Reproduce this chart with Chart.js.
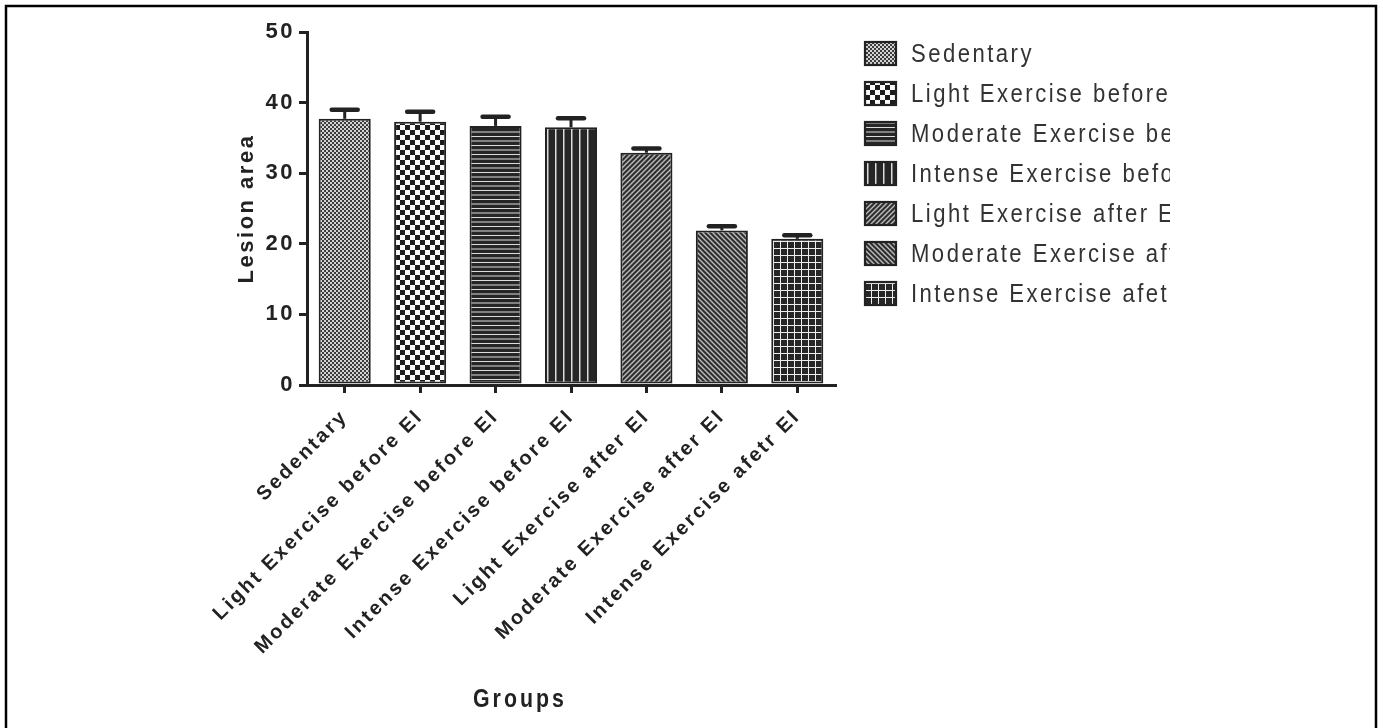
<!DOCTYPE html>
<html>
<head>
<meta charset="utf-8">
<title>Lesion area by group</title>
<script src="https://cdn.jsdelivr.net/npm/chart.js@4.4.1/dist/chart.umd.min.js"></script>
<style>
  html, body { margin: 0; padding: 0; background: #fff; overflow: hidden; }
  canvas { display: block; }
</style>
</head>
<body>
<canvas id="chart" width="1383" height="728"></canvas>
<script>
// Groups (x categories, also used for the legend)
const groups = [
  'Sedentary',
  'Light Exercise before El',
  'Moderate Exercise before El',
  'Intense Exercise before El',
  'Light Exercise after El',
  'Moderate Exercise after El',
  'Intense Exercise afetr El'
];
// Mean lesion area per group and its SEM (upper error bar)
const lesionMean = [37.7, 37.3, 36.7, 36.5, 32.9, 21.9, 20.7];
const lesionSEM  = [1.3, 1.4, 1.3, 1.3, 0.6, 0.6, 0.5];
// Y axis ticks
const yTicks = [0, 10, 20, 30, 40, 50];
// Fill pattern for each group
const fillKinds = ['fineCheck', 'checker', 'hLines', 'vLines', 'diagUp', 'diagDown', 'grid'];

const INK = '#222';
const canvas = document.getElementById('chart');
const baseCtx = canvas.getContext('2d');

function makeTile(kind) {
  const t = document.createElement('canvas');
  const g = t.getContext('2d');
  const dark = '#262626', light = '#dcdcdc';
  switch (kind) {
    case 'fineCheck':
      t.width = t.height = 4;
      g.fillStyle = '#3c3c3c'; g.fillRect(0, 0, 4, 4);
      g.fillStyle = '#d4d4d4'; g.fillRect(0, 0, 2, 2); g.fillRect(2, 2, 2, 2);
      break;
    case 'checker':
      t.width = t.height = 10;
      g.fillStyle = '#fafafa'; g.fillRect(0, 0, 10, 10);
      g.fillStyle = '#1c1c1c'; g.fillRect(0, 0, 5, 5); g.fillRect(5, 5, 5, 5);
      break;
    case 'hLines':
      t.width = 4; t.height = 9;
      g.fillStyle = dark; g.fillRect(0, 0, 4, 9);
      g.fillStyle = light; g.fillRect(0, 1, 4, 1); g.fillRect(0, 5.5, 4, 1);
      break;
    case 'vLines':
      t.width = 8; t.height = 4;
      g.fillStyle = dark; g.fillRect(0, 0, 8, 4);
      g.fillStyle = light; g.fillRect(3, 0, 1.5, 4);
      break;
    case 'diagUp':
    case 'diagDown': {
      const s = 5;
      t.width = t.height = s;
      g.fillStyle = '#2e2e2e'; g.fillRect(0, 0, s, s);
      g.strokeStyle = '#bdbdbd'; g.lineWidth = 1.4;
      if (kind === 'diagDown') { g.translate(s, 0); g.scale(-1, 1); }
      g.beginPath();
      g.moveTo(-1, s + 1); g.lineTo(s + 1, -1);
      g.moveTo(-1, 1); g.lineTo(1, -1);
      g.moveTo(s - 1, s + 1); g.lineTo(s + 1, s - 1);
      g.stroke();
      break;
    }
    case 'grid':
      t.width = t.height = 7;
      g.fillStyle = dark; g.fillRect(0, 0, 7, 7);
      g.fillStyle = '#eeeeee'; g.fillRect(3, 0, 1, 7); g.fillRect(0, 3, 7, 1);
      break;
  }
  return t;
}
const fills = fillKinds.map(k => baseCtx.createPattern(makeTile(k), 'repeat'));

// Text in this figure is set with wide tracking
const tracking = {
  id: 'tracking',
  beforeUpdate(chart) { chart.ctx.letterSpacing = '2.5px'; },
  beforeDraw(chart) { chart.ctx.letterSpacing = '2.5px'; }
};

// Upper SEM whiskers with a flat cap
const errorBars = {
  id: 'errorBars',
  afterDatasetsDraw(chart) {
    const { ctx, scales: { y } } = chart;
    const meta = chart.getDatasetMeta(0);
    ctx.save();
    ctx.strokeStyle = INK;
    meta.data.forEach((bar, i) => {
      const top = y.getPixelForValue(lesionMean[i]);
      const hi = y.getPixelForValue(lesionMean[i] + lesionSEM[i]);
      ctx.lineWidth = 3; ctx.lineCap = 'butt';
      ctx.beginPath(); ctx.moveTo(bar.x, top); ctx.lineTo(bar.x, hi); ctx.stroke();
      ctx.lineWidth = 4.5; ctx.lineCap = 'round';
      ctx.beginPath(); ctx.moveTo(bar.x - 13, hi); ctx.lineTo(bar.x + 13, hi); ctx.stroke();
    });
    ctx.restore();
  }
};

// Condensed text: draw with a horizontal squeeze
function condensedText(ctx, text, x, y, squeeze) {
  ctx.save();
  ctx.translate(x, y);
  ctx.scale(squeeze, 1);
  ctx.fillText(text, 0, 0);
  ctx.restore();
}

// Pattern key on the right, clipped at a fixed width; x-axis title; outer frame
const decorations = {
  id: 'decorations',
  afterDraw(chart) {
    const { ctx } = chart;
    ctx.save();
    // legend
    ctx.beginPath(); ctx.rect(0, 0, 1170, 728); ctx.clip();
    groups.forEach((name, i) => {
      const cy = 53.5 + 40 * i;
      ctx.fillStyle = fills[i];
      ctx.fillRect(865, cy - 11.5, 31, 23);
      ctx.strokeStyle = INK; ctx.lineWidth = 2.2;
      ctx.strokeRect(865, cy - 11.5, 31, 23);
      ctx.fillStyle = '#333';
      ctx.font = '26px "Liberation Sans", Arial, sans-serif';
      ctx.letterSpacing = '2.9px';
      ctx.textAlign = 'left'; ctx.textBaseline = 'middle';
      condensedText(ctx, name, 911, cy + 1, 0.85);
    });
    ctx.restore();

    // x-axis title
    ctx.save();
    ctx.fillStyle = INK;
    ctx.font = 'bold 26px "Liberation Sans", Arial, sans-serif';
    ctx.letterSpacing = '3.7px';
    ctx.textAlign = 'center'; ctx.textBaseline = 'alphabetic';
    condensedText(ctx, 'Groups', 520, 707, 0.82);
    ctx.restore();

    // frame
    ctx.save();
    ctx.strokeStyle = '#000'; ctx.lineWidth = 2.5;
    ctx.beginPath();
    ctx.moveTo(6, 740); ctx.lineTo(6, 6); ctx.lineTo(1376, 6); ctx.lineTo(1376, 740);
    ctx.stroke();
    ctx.restore();
  }
};

new Chart(canvas, {
  type: 'bar',
  data: {
    labels: groups,
    datasets: [{
      data: lesionMean,
      backgroundColor: fills,
      borderColor: INK,
      borderWidth: 2,
      borderSkipped: false,
      barPercentage: 0.69,
      categoryPercentage: 1
    }]
  },
  options: {
    responsive: false,
    animation: false,
    devicePixelRatio: 1,
    layout: { padding: { left: 230, top: 32, right: 548, bottom: 0 } },
    plugins: { legend: { display: false }, tooltip: { enabled: false } },
    scales: {
      x: {
        grid: { display: true, drawOnChartArea: false, drawTicks: true, offset: false,
                tickLength: 8, color: INK, lineWidth: 3 },
        border: { display: true, color: INK, width: 3 },
        ticks: {
          autoSkip: false, minRotation: 45, maxRotation: 45, padding: 12,
          color: INK, font: { family: '"Liberation Sans", Arial, sans-serif', size: 20, weight: 'bold' }
        },
        afterFit(scale) { scale.height = 728 - 385; }
      },
      y: {
        min: 0, max: 50,
        afterBuildTicks(scale) { scale.ticks = yTicks.map(v => ({ value: v })); },
        grid: { display: true, drawOnChartArea: false, drawTicks: true,
                tickLength: 8, color: INK, lineWidth: 3 },
        border: { display: true, color: INK, width: 3 },
        ticks: {
          padding: 4, color: INK,
          font: { family: '"Liberation Sans", Arial, sans-serif', size: 22, weight: 'bold' }
        },
        title: {
          display: true, text: 'Lesion area', color: INK,
          padding: { top: 4, bottom: 4 },
          font: { family: '"Liberation Sans", Arial, sans-serif', size: 22, weight: 'bold' }
        },
        afterFit(scale) { scale.width = 307 - 230; }
      }
    }
  },
  plugins: [tracking, errorBars, decorations]
});
</script>
</body>
</html>
